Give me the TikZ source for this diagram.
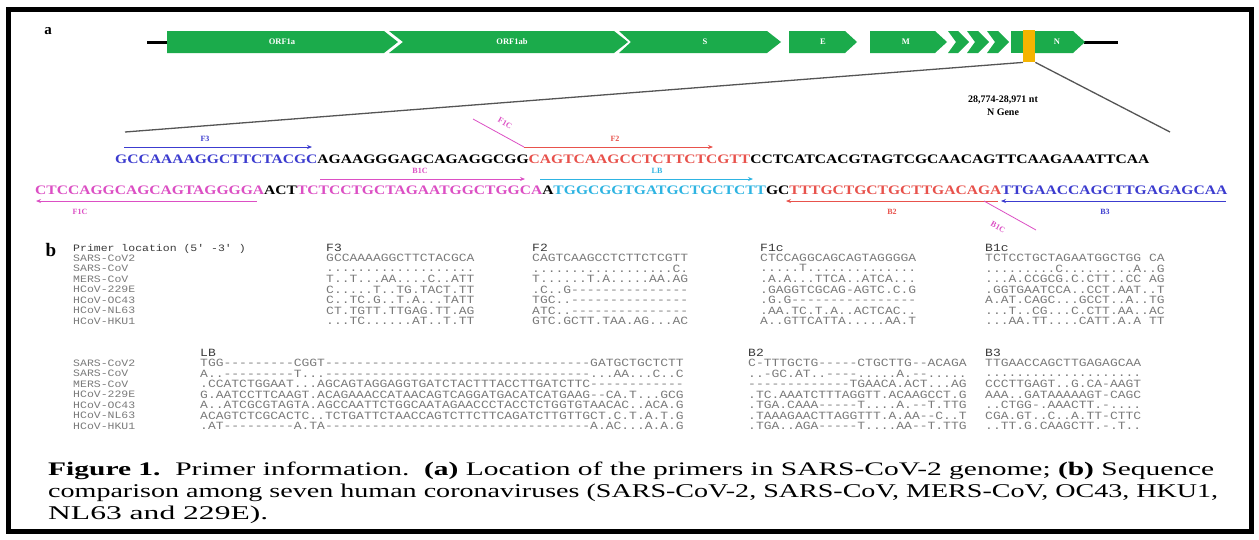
\documentclass[tikz,border=0pt]{standalone}
\usepackage{graphicx}
\usepackage{fontspec}
\setmainfont{Liberation Serif}
\setmonofont{Liberation Mono}
\usetikzlibrary{arrows.meta}
\definecolor{gene}{HTML}{1BAB4B}
\definecolor{ybar}{HTML}{F5B400}
\definecolor{pblue}{HTML}{3C3CCF}
\definecolor{pred}{HTML}{E8524C}
\definecolor{pmag}{HTML}{DC4FC4}
\definecolor{pcyan}{HTML}{2EB4E2}
\definecolor{hdr}{HTML}{3A3A3A}
\definecolor{dat}{HTML}{7A7A7A}
\definecolor{zoomln}{HTML}{555555}
\newcommand\tcol[2]{\scalebox{1}[0.85]{\fontsize{13}{12.3}\selectfont\ttfamily\color{dat}\begin{tabular}[t]{@{}l@{}}\textcolor{hdr}{#1}\\#2\end{tabular}}}
\newcommand\ncol[1]{\scalebox{1}[0.85]{\fontsize{11.5}{12.3}\selectfont\ttfamily\color{dat}\begin{tabular}[t]{@{}l@{}}#1\end{tabular}}}
\begin{document}
\begin{tikzpicture}[x=1pt,y=-1pt,
  glab/.style={text=white,font=\bfseries\fontsize{8.5}{8.5}\selectfont,inner sep=0},
  plab/.style={font=\bfseries\fontsize{8}{8}\selectfont,inner sep=0},
  parr/.style={line width=0.8pt},
  rtip/.style={-{Stealth[length=5pt,width=4pt]}},
  ltip/.style={{Stealth[length=5pt,width=4pt]}-},
  seqline/.style={anchor=base west,inner sep=0},
  tabnode/.style={anchor=base west,inner sep=0},
  capline/.style={anchor=base west,inner sep=0,font=\fontsize{19}{19}\selectfont}]
\useasboundingbox (0,0) rectangle (1259,539);
\fill[white] (0,0) rectangle (1259,539);
\draw[line width=5pt] (8,9) rectangle (1251,531);

% panel labels
\node[font=\bfseries\fontsize{15}{15}\selectfont,inner sep=0] (lba) at (48,31) {a};
\node[font=\bfseries\fontsize{19}{19}\selectfont,inner sep=0] (lbb) at (51,250) {b};

% genome bar
\draw[line width=3pt] (147,42) -- (168,42);
\draw[line width=3pt] (1084,42) -- (1118,42);
\fill[gene] (167,31) -- (384,31) -- (398,42) -- (384,53) -- (167,53) -- cycle;
\fill[gene] (389,31) -- (614,31) -- (628,42) -- (614,53) -- (389,53) -- (403,42) -- cycle;
\fill[gene] (619,31) -- (767,31) -- (781,42) -- (767,53) -- (619,53) -- (631,42) -- cycle;
\fill[gene] (789,31) -- (845,31) -- (857,42) -- (845,53) -- (789,53) -- cycle;
\fill[gene] (870,31) -- (935,31) -- (947,42) -- (935,53) -- (870,53) -- cycle;
\fill[gene] (948,31) -- (958,31) -- (969,42) -- (958,53) -- (948,53) -- (956,42) -- cycle;
\fill[gene] (967,31) -- (978,31) -- (989,42) -- (978,53) -- (967,53) -- (975,42) -- cycle;
\fill[gene] (987,31) -- (998,31) -- (1009,42) -- (998,53) -- (987,53) -- (995,42) -- cycle;
\fill[gene] (1011,31) rectangle (1024,53);
\fill[gene] (1035,31) -- (1073,31) -- (1085,42) -- (1073,53) -- (1035,53) -- cycle;
\node[fill=ybar,minimum width=12,minimum height=32,inner sep=0,anchor=north west] (yb) at (1023,30) {};
\node[glab] (g1) at (282,42) {ORF1a};
\node[glab] (g2) at (512,42) {ORF1ab};
\node[glab] (g3) at (705,42) {S};
\node[glab] (g4) at (823,42) {E};
\node[glab] (g5) at (906,42) {M};
\node[glab] (g6) at (1057,42) {N};
\node[font=\bfseries\fontsize{10}{13}\selectfont,align=center,inner sep=0] (pos) at (1003,106) {28,774-28,971 nt\\N Gene};

% zoom lines
\coordinate (zl) at (125,132);
\coordinate (zr) at (1170,132);
\draw[zoomln,line width=1.3pt] (yb.south west) -- (zl);
\draw[zoomln,line width=1.3pt] (yb.south east) -- (zr);

% sequences
\node[seqline] (seq1) at (115,163) {\resizebox{1034pt}{8.6pt}{\bfseries\textcolor{pblue}{GCCAAAAGGCTTCTACGC}AGAAGGGAGCAGAGGCGG\textcolor{pred}{CAGTCAAGCCTCTTCTCGTT}CCTCATCACGTAGTCGCAACAGTTCAAGAAATTCAA}};
\node[seqline] (seq2) at (35,194) {\resizebox{1192pt}{8.6pt}{\bfseries\textcolor{pmag}{CTCCAGGCAGCAGTAGGGGA}ACT\textcolor{pmag}{TCTCCTGCTAGAATGGCTGGCA}A\textcolor{pcyan}{TGGCGGTGATGCTGCTCTT}GC\textcolor{pred}{TTTGCTGCTGCTTGACAGA}\textcolor{pblue}{TTGAACCAGCTTGAGAGCAA}}};

% primer arrows, line 1
\coordinate (f3a) at (124,147); \coordinate (f3b) at (312,147);
\draw[pblue,parr,rtip] (f3a) -- (f3b);
\node[plab,text=pblue] (lf3) at (205,139) {F3};
\coordinate (f1ua) at (473,119); \coordinate (f1ub) at (524,147);
\coordinate (f2b) at (713,147);
\draw[pmag,parr] (f1ua) -- (f1ub);
\draw[pred,parr,rtip] (f1ub) -- (f2b);
\node[plab,text=pmag,rotate=-29] (lf1u) at (505,123) {F1C};
\node[plab,text=pred] (lf2) at (615,139) {F2};

% primer arrows, line 2 (above)
\coordinate (b1a) at (320,179); \coordinate (b1b) at (525,179);
\draw[pmag,parr,rtip] (b1a) -- (b1b);
\node[plab,text=pmag] (lb1) at (420,171) {B1C};
\coordinate (lba1) at (540,179); \coordinate (lba2) at (753,179);
\draw[pcyan,parr,rtip] (lba1) -- (lba2);
\node[plab,text=pcyan] (llb) at (657,171) {LB};

% primer arrows, line 2 (below)
\coordinate (f1la) at (36,201); \coordinate (f1lb) at (257,201);
\draw[pmag,parr,ltip] (f1la) -- (f1lb);
\node[plab,text=pmag] (lf1l) at (80,212) {F1C};
\coordinate (b2a) at (786,201); \coordinate (b2b) at (998,201);
\draw[pred,parr,ltip] (b2a) -- (b2b);
\node[plab,text=pred] (lb2) at (892,212) {B2};
\coordinate (b3a) at (1001,201); \coordinate (b3b) at (1226,201);
\draw[pblue,parr,ltip] (b3a) -- (b3b);
\node[plab,text=pblue] (lb3) at (1105,212) {B3};
\coordinate (b1la) at (984,201); \coordinate (b1lb) at (1036,230);
\draw[pmag,parr] (b1la) -- (b1lb);
\node[plab,text=pmag,rotate=-29] (lb1l) at (998,227) {B1C};

% table, block 1
\node[tabnode] (names1) at (73,251) {\ncol{\textcolor{hdr}{Primer location  (5' -3' )}\\SARS-CoV2\\SARS-CoV\\MERS-CoV\\HCoV-229E\\HCoV-OC43\\HCoV-NL63\\HCoV-HKU1}};
\node[tabnode] (cf3) at (326,251) {\tcol{F3}{GCCAAAAGGCTTCTACGCA\\...................\\T..T...AA....C..ATT\\C.....T..TG.TACT.TT\\C..TC.G..T.A...TATT\\CT.TGTT.TTGAG.TT.AG\\...TC......AT..T.TT}};
\node[tabnode] (cf2) at (532,251) {\tcol{F2}{CAGTCAAGCCTCTTCTCGTT\\..................C.\\T......T.A.....AA.AG\\.C..G---------------\\TGC..---------------\\ATC..---------------\\GTC.GCTT.TAA.AG...AC}};
\node[tabnode] (cf1) at (760,251) {\tcol{F1c}{CTCCAGGCAGCAGTAGGGGA\\.....T..............\\.A.A...TTCA..ATCA...\\.GAGGTCGCAG-AGTC.C.G\\.G.G----------------\\.AA.TC.T.A..ACTCAC..\\A..GTTCATTA.....AA.T}};
\node[tabnode] (cb1) at (985,251) {\tcol{B1c}{TCTCCTGCTAGAATGGCTGG CA\\.........C.........A..G\\...A.CCGCG.C.CTT..CC AG\\.GGTGAATCCA..CCT.AAT..T\\A.AT.CAGC...GCCT..A..TG\\...T..CG...C.CTT.AA..AC\\...AA.TT....CATT.A.A TT}};

% table, block 2
\node[tabnode] (names2) at (73,366.5) {\ncol{SARS-CoV2\\SARS-CoV\\MERS-CoV\\HCoV-229E\\HCoV-OC43\\HCoV-NL63\\HCoV-HKU1}};
\node[tabnode] (clb) at (200,356) {\tcol{LB}{TGG---------CGGT----------------------------------GATGCTGCTCTT\\A..---------T...----------------------------------...AA...C..C\\.CCATCTGGAAT...AGCAGTAGGAGGTGATCTACTTTACCTTGATCTTC------------\\G.AATCCTTCAAGT.ACAGAAACCATAACAGTCAGGATGACATCATGAAG--CA.T...GCG\\A..ATCGCGTAGTA.AGCCAATTCTGGCAATAGAACCCTACCTCTGGTGTAACAC..ACA.G\\ACAGTCTCGCACTC..TCTGATTCTAACCAGTCTTCTTCAGATCTTGTTGCT.C.T.A.T.G\\.AT---------A.TA----------------------------------A.AC...A.A.G}};
\node[tabnode] (cb2) at (748,356) {\tcol{B2}{C-TTTGCTG-----CTGCTTG--ACAGA\\..-GC.AT..----.....A.--.....\\-------------TGAACA.ACT...AG\\.TC.AAATCTTTAGGTT.ACAAGCCT.G\\.TGA.CAAA-----T....A.--T.TTG\\.TAAAGAACTTAGGTTT.A.AA--C..T\\.TGA..AGA-----T....AA--T.TTG}};
\node[tabnode] (cb3) at (985,356) {\tcol{B3}{TTGAACCAGCTTGAGAGCAA\\....................\\CCCTTGAGT..G.CA-AAGT\\AAA..GATAAAAAGT-CAGC\\..CTGG-.AAACTT.-....\\CGA.GT..C..A.TT-CTTC\\..TT.G.CAAGCTT.-.T..}};

% caption
\node[capline] (cap1) at (48,475) {\resizebox{1166pt}{13.5pt}{\textbf{Figure 1.}\ \ Primer information.\ \ \textbf{(a)} Location of the primers in SARS-CoV-2 genome; \textbf{(b)} Sequence}};
\node[capline] (cap2) at (48,497) {\resizebox{1170pt}{13.5pt}{comparison among seven human coronaviruses (SARS-CoV-2, SARS-CoV, MERS-CoV, OC43, HKU1,}};
\node[capline] (cap3) at (48,519) {\resizebox{220pt}{13.5pt}{NL63 and 229E).}};
\end{tikzpicture}
\end{document}
